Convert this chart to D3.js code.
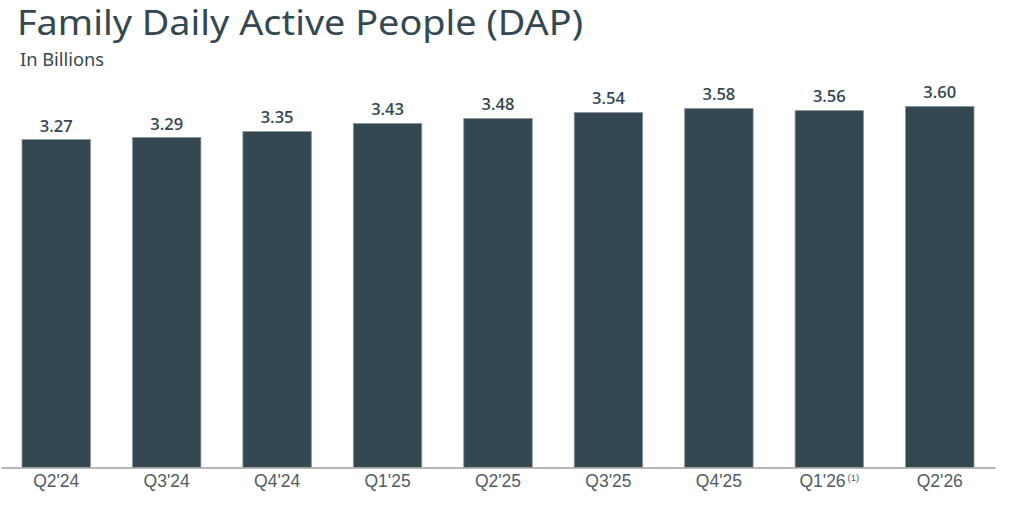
<!DOCTYPE html>
<html>
<head>
<meta charset="utf-8">
<script src="https://cdn.jsdelivr.net/npm/d3@7"></script>
<style>
  body { margin: 0; background: #fff; }
  svg { display: block; }
</style>
</head>
<body>
<svg id="chart" width="1009" height="512"></svg>
<script>
var quarters = ["Q2'24", "Q3'24", "Q4'24", "Q1'25", "Q2'25", "Q3'25", "Q4'25", "Q1'26", "Q2'26"];
var dap = [3.27, 3.29, 3.35, 3.43, 3.48, 3.54, 3.58, 3.56, 3.60];
var footnotes = ["", "", "", "", "", "", "", "(1)", ""];

var svg = d3.select("#chart");
var baseline = 467.5;
var barColor = "#344852";

var x = d3.scaleBand()
    .domain(quarters)
    .range([1, 995])
    .paddingInner(0.38)
    .paddingOuter(0.19);

var y = d3.scaleLinear()
    .domain([0, 4])
    .range([baseline, baseline - 4 * 100.3]);

// title
svg.append("text")
    .attr("x", 17)
    .attr("y", 35)
    .attr("fill", barColor)
    .attr("textLength", 566)
    .attr("lengthAdjust", "spacingAndGlyphs")
    .style("font-family", "'Noto Sans', sans-serif")
    .style("font-size", "34px")
    .text("Family Daily Active People (DAP)");

svg.append("text")
    .attr("x", 20)
    .attr("y", 66)
    .attr("fill", barColor)
    .attr("textLength", 84)
    .attr("lengthAdjust", "spacingAndGlyphs")
    .style("font-family", "'Noto Sans', sans-serif")
    .style("font-size", "17.5px")
    .text("In Billions");

var data = quarters.map(function(q, i) { return {q: q, v: dap[i], note: footnotes[i]}; });

svg.append("g").selectAll("rect")
    .data(data)
  .enter().append("rect")
    .attr("x", function(d) { return x(d.q); })
    .attr("y", function(d) { return y(d.v); })
    .attr("width", x.bandwidth())
    .attr("height", function(d) { return baseline - y(d.v); })
    .attr("fill", barColor)
    .attr("stroke", "#8c989f")
    .attr("stroke-width", 0.8);

svg.append("g").selectAll("text")
    .data(data)
  .enter().append("text")
    .attr("x", function(d) { return x(d.q) + x.bandwidth() / 2; })
    .attr("y", function(d) { return y(d.v) - 8; })
    .attr("text-anchor", "middle")
    .attr("fill", barColor)
    .style("font-family", "'Open Sans', sans-serif")
    .style("font-weight", "600")
    .style("font-size", "16.5px")
    .text(function(d) { return d.v.toFixed(2); });

// x axis
var axis = svg.append("g")
    .attr("transform", "translate(0," + baseline + ")")
    .call(d3.axisBottom(x).tickSize(0).tickPadding(7.5));
axis.select(".domain").attr("stroke", "#a0a0a0").attr("stroke-width", 1.5);
axis.selectAll(".tick text")
    .attr("fill", "#525c64")
    .style("font-family", "'Liberation Sans', Arial, sans-serif")
    .style("font-size", "17.5px")
    .each(function(d, i) {
      if (footnotes[i]) {
        d3.select(this).append("tspan")
          .attr("dx", 2)
          .attr("dy", -6)
          .style("font-size", "9.5px")
          .text(footnotes[i]);
      }
    });
</script>
</body>
</html>
